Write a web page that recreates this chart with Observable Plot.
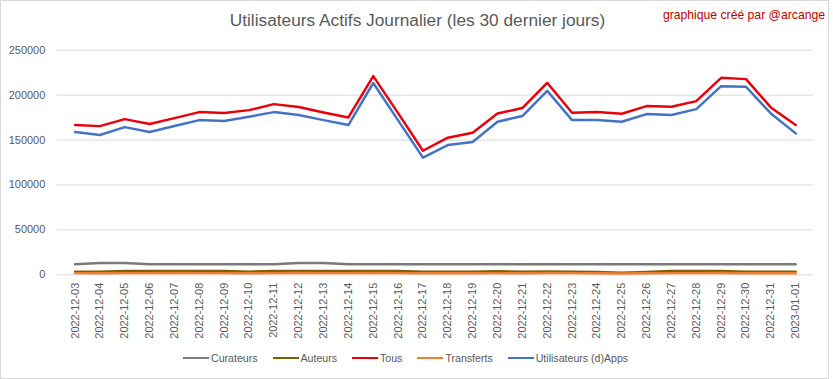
<!DOCTYPE html>
<html>
<head>
<meta charset="utf-8">
<script src="https://cdn.jsdelivr.net/npm/d3@7"></script>
<script src="https://cdn.jsdelivr.net/npm/@observablehq/plot@0.6"></script>
<style>
  html, body { margin: 0; padding: 0; background: #fff; }
  #wrap { position: relative; width: 829px; height: 379px; box-sizing: border-box; border: 1px solid #d9d9d9; overflow: hidden; font-family: "Liberation Sans", Arial, sans-serif; }
  #chart { position: absolute; left: -1px; top: -1px; }
  #title { position: absolute; left: 0; width: 833px; top: 9px; text-align: center; font-size: 17.3px; color: #595959; }
  #credit { position: absolute; right: 3px; top: 7px; font-size: 12.2px; color: #c00000; }
  #legend { position: absolute; left: 182px; top: 351px; display: flex; gap: 15px; font-size: 10.6px; color: #595959; }
  .item { display: flex; align-items: center; }
  .sw { display: inline-block; width: 26px; height: 2.5px; margin-right: 2px; }
</style>
</head>
<body>
<div id="wrap">
  <div id="chart"></div>
  <div id="title">Utilisateurs Actifs Journalier (les 30 dernier jours)</div>
  <div id="credit">graphique créé par @arcange</div>
  <div id="legend"></div>
</div>
<script>
const dates = ["2022-12-03","2022-12-04","2022-12-05","2022-12-06","2022-12-07","2022-12-08","2022-12-09","2022-12-10","2022-12-11","2022-12-12","2022-12-13","2022-12-14","2022-12-15","2022-12-16","2022-12-17","2022-12-18","2022-12-19","2022-12-20","2022-12-21","2022-12-22","2022-12-23","2022-12-24","2022-12-25","2022-12-26","2022-12-27","2022-12-28","2022-12-29","2022-12-30","2022-12-31","2023-01-01"];
const curateurs = [11800,13200,13200,11800,11800,11800,11800,11800,11800,13200,13200,11800,11800,11800,11800,11800,11800,11800,11800,11800,11800,11800,11800,11800,11800,11800,11800,11800,11800,11800];
const auteurs = [3500,3500,4300,4300,4300,4300,4300,3500,4300,4300,4300,4300,4300,4300,3500,3500,3500,4000,3500,3700,3500,3300,2400,3300,4200,4200,4200,3500,3500,3500];
const tous = [166700,165500,173300,167800,174400,181100,180000,183300,190000,186700,180700,175200,221200,180000,138100,152600,158100,179600,185600,213700,180400,181100,179300,187800,187000,193300,219300,217800,186300,166700];
const transferts = [1900,1800,1900,1900,2000,1900,1900,1800,1900,2000,1900,1900,2000,1900,1700,1800,1800,1900,1800,2000,1900,1800,1500,1700,1900,1900,2000,1800,1800,1800];
const apps = [158900,155600,164400,158900,165600,172200,171100,175900,181100,177800,172200,166700,213500,171900,130400,144400,147800,170400,176700,204800,172200,172200,170400,178900,177800,184400,210000,209300,179600,157400];
const seriesNames = ["Curateurs","Auteurs","Tous","Transferts","Utilisateurs (d)Apps"];
const seriesColors = ["#7a7a7a","#7f6000","#e8000b","#ed7d31","#4472c4"];
const yTicks = [0,50000,100000,150000,200000,250000];

const seriesValues = [curateurs, auteurs, tous, transferts, apps];
const data = [];
seriesNames.forEach((name, s) => {
  dates.forEach((d, i) => data.push({date: d, value: seriesValues[s][i], series: name}));
});

const chart = Plot.plot({
  width: 833,
  height: 379,
  marginLeft: 57,
  marginRight: 15,
  marginTop: 50,
  marginBottom: 103,
  style: {fontFamily: "'Liberation Sans', Arial, sans-serif", fontSize: "11px", color: "#595959", background: "transparent"},
  x: {type: "point", domain: dates, padding: 0.5, label: null},
  y: {domain: [0, 250000], label: null},
  color: {domain: seriesNames, range: seriesColors},
  marks: [
    Plot.gridY(yTicks, {stroke: "#d9d9d9", strokeOpacity: 1}),
    Plot.axisY(yTicks, {tickSize: 0, tickPadding: 12, tickFormat: d => String(d), label: null, fontSize: 11}),
    Plot.axisX({tickSize: 0, tickRotate: -90, tickPadding: 8, label: null, fontSize: 11}),
    Plot.line(data, {x: "date", y: "value", z: "series", stroke: "series", strokeWidth: 2.5, curve: "linear"})
  ]
});
document.getElementById("chart").appendChild(chart);

const legend = document.getElementById("legend");
seriesNames.forEach((name, i) => {
  const item = document.createElement("div");
  item.className = "item";
  const sw = document.createElement("span");
  sw.className = "sw";
  sw.style.background = seriesColors[i];
  const t = document.createElement("span");
  t.textContent = name;
  item.appendChild(sw);
  item.appendChild(t);
  legend.appendChild(item);
});
</script>
</body>
</html>
